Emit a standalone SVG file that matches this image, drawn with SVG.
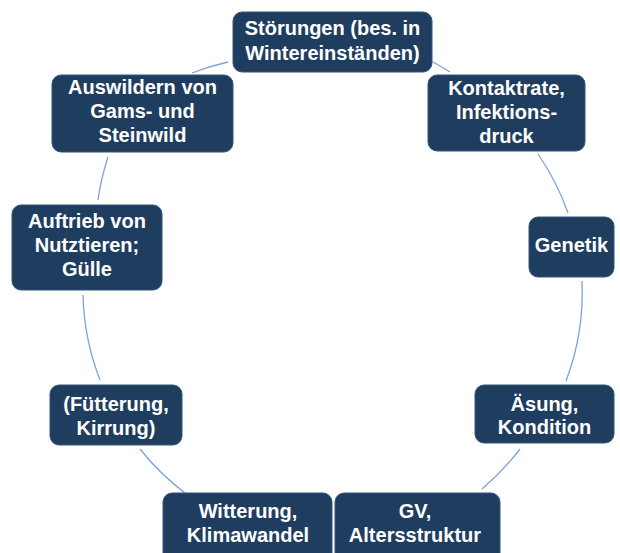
<svg xmlns="http://www.w3.org/2000/svg" width="620" height="553" viewBox="0 0 620 553">
<style>
.box{fill:#1F3E5F;stroke:#34557A;stroke-width:1}
.t{font-family:"Liberation Sans",Arial,sans-serif;font-weight:bold;font-size:20px;fill:#FFFFFF;text-anchor:middle}
.c{fill:none;stroke:#7BA3D9;stroke-width:1.3}
</style>
<rect width="620" height="553" fill="#FFFFFF"/>
<g id="connectors">
<path class="c" d="M192,73 A250,250 0 0 1 228,62"/>
<path class="c" d="M433,62 A250,250 0 0 1 450,72"/>
<path class="c" d="M538,154 A250,250 0 0 1 568,213"/>
<path class="c" d="M582,281 A250,250 0 0 1 566,381"/>
<path class="c" d="M520,449 A250,250 0 0 1 482,489"/>
<path class="c" d="M185,493 A250,250 0 0 1 140,449"/>
<path class="c" d="M100,380 A250,250 0 0 1 83,295"/>
<path class="c" d="M98,200 A250,250 0 0 1 108,157"/>
</g>
<g id="n-stoerungen">
<rect class="box" x="233" y="12" width="199" height="60" rx="9"/>
<text class="t" x="332.5" y="35">Störungen (bes. in</text>
<text class="t" x="332.5" y="60">Wintereinständen)</text>
</g>
<g id="n-kontaktrate">
<rect class="box" x="428" y="75" width="157" height="76" rx="9"/>
<text class="t" x="506.5" y="95">Kontaktrate,</text>
<text class="t" x="506.5" y="119">Infektions-</text>
<text class="t" x="506.5" y="143">druck</text>
</g>
<g id="n-genetik">
<rect class="box" x="529" y="217" width="85" height="60" rx="9"/>
<text class="t" x="571.5" y="252">Genetik</text>
</g>
<g id="n-aesung">
<rect class="box" x="475" y="385" width="139" height="58" rx="9"/>
<text class="t" x="544.5" y="411">Äsung,</text>
<text class="t" x="544.5" y="434">Kondition</text>
</g>
<g id="n-gv">
<rect class="box" x="335" y="493" width="165" height="72" rx="9"/>
<text class="t" x="415" y="518">GV,</text>
<text class="t" x="415" y="542">Altersstruktur</text>
</g>
<g id="n-witterung">
<rect class="box" x="163" y="493" width="169" height="72" rx="9"/>
<text class="t" x="248" y="518">Witterung,</text>
<text class="t" x="248" y="542">Klimawandel</text>
</g>
<g id="n-fuetterung">
<rect class="box" x="50" y="385" width="132" height="60" rx="9"/>
<text class="t" x="116" y="411">(Fütterung,</text>
<text class="t" x="116" y="435">Kirrung)</text>
</g>
<g id="n-auftrieb">
<rect class="box" x="12" y="205" width="150" height="85" rx="9"/>
<text class="t" x="87" y="228">Auftrieb von</text>
<text class="t" x="87" y="252">Nutztieren;</text>
<text class="t" x="87" y="276">Gülle</text>
</g>
<g id="n-auswildern">
<rect class="box" x="52" y="75" width="181" height="77" rx="9"/>
<text class="t" x="142.5" y="94">Auswildern von</text>
<text class="t" x="142.5" y="118">Gams- und</text>
<text class="t" x="142.5" y="142">Steinwild</text>
</g>
</svg>
